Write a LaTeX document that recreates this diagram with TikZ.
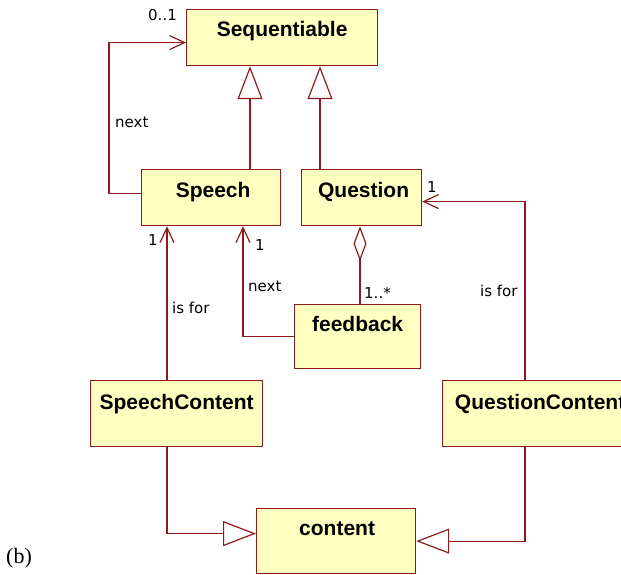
\documentclass[tikz,border=0pt]{standalone}
\usepackage{fontspec}
\setmainfont{Liberation Serif}
\newfontfamily\lblfont{DejaVu Sans}
\newfontfamily\clsfont{Liberation Sans}
\usetikzlibrary{arrows.meta,calc}
\definecolor{umlline}{RGB}{140,28,28}
\definecolor{umlfill}{RGB}{255,255,194}
\tikzset{
  cls/.style={draw=umlline, fill=umlfill, line width=1.2pt, rectangle, anchor=north west, inner sep=0pt},
  clsname/.style={anchor=base, inner sep=0pt, font=\clsfont\bfseries\fontsize{21}{24}\selectfont},
  lbl/.style={anchor=base west, inner sep=0pt, font=\lblfont\fontsize{15}{18}\selectfont},
  conn/.style={draw=umlline, line width=1.2pt},
  gen/.style={conn, -{Triangle[open, length=33pt, width=25pt]}},
  assoc/.style={conn, -{Straight Barb[length=15pt, width=14pt]}},
  agg/.style={conn, {Diamond[open, length=35pt, width=13pt]}-},
}
\begin{document}
\begin{tikzpicture}[x=1pt, y=-1pt]
\useasboundingbox (0,0) rectangle (621,575);
\clip (0,0) rectangle (621,575);

% class boxes
\node[cls, minimum width=191pt, minimum height=56pt] (seq) at (186,9) {};
\node[cls, minimum width=139pt, minimum height=56pt] (speech) at (141,169) {};
\node[cls, minimum width=120pt, minimum height=56pt] (question) at (301,169) {};
\node[cls, minimum width=126pt, minimum height=64pt] (feedback) at (294,304) {};
\node[cls, minimum width=172pt, minimum height=66pt] (sc) at (90,380) {};
\node[cls, minimum width=195pt, minimum height=66pt] (qc) at (442,380) {};
\node[cls, minimum width=159pt, minimum height=65pt] (content) at (256,508) {};

% class names
\node[clsname] (seqT) at ($(seq.north)+(0,28)$) {Sequentiable};
\node[clsname] (speechT) at ($(speech.north)+(2,28)$) {Speech};
\node[clsname] (questionT) at ($(question.north)+(2,28)$) {Question};
\node[clsname] (feedbackT) at ($(feedback.north)+(0,27)$) {feedback};
\node[clsname] (scT) at ($(sc.north)+(0,29)$) {SpeechContent};
\node[clsname] (qcT) at ($(qc.north)+(0,29)$) {QuestionContent};
\node[clsname] (contentT) at ($(content.north)+(1,27)$) {content};

% generalizations to Sequentiable
\draw[gen] ($(speech.north west)+(109,0)$) coordinate (g1) -- (g1 |- seq.south);
\draw[gen] ($(question.north west)+(19,0)$) coordinate (g2) -- (g2 |- seq.south);

% self "next" association Speech -> Sequentiable
\draw[assoc] ($(speech.west)+(0,-4)$) -- ++(-32,0) |- ($(seq.west)+(0,5)$);

% SpeechContent -> Speech
\draw[assoc] ($(sc.north west)+(77,0)$) coordinate (a1) -- (a1 |- speech.south);

% feedback -> Speech
\draw[assoc] (feedback.west) -| ($(speech.south west)+(102,0)$);

% aggregation Question <>- feedback
\draw[agg] ($(question.south west)+(59,0)$) coordinate (ag) -- (ag |- feedback.north);

% QuestionContent -> Question
\draw[assoc] ($(qc.north west)+(83,0)$) |- ($(question.east)+(0,4)$);

% generalizations to content
\draw[gen] ($(sc.south west)+(77,0)$) |- ($(content.west)+(0,-7.5)$);
\draw[gen] ($(qc.south west)+(83,0)$) |- (content.east);

% labels
\node[lbl] (l01) at (148,21) {0..1};
\node[lbl] (lnext1) at (115,128) {next};
\node[lbl] (l1a) at (148,245) {1};
\node[lbl] (l1b) at (255,250) {1};
\node[lbl] (lnext2) at (248,291) {next};
\node[lbl] (lisfor1) at (172,313) {is for};
\node[lbl] (l1n) at (364,298) {1..*};
\node[lbl] (l1c) at (427,192) {1};
\node[lbl] (lisfor2) at (480,296) {is for};

% caption
\node[anchor=base west, inner sep=0pt, font=\fontsize{22}{26}\selectfont] (cap) at (6,563) {(b)};
\end{tikzpicture}
\end{document}
